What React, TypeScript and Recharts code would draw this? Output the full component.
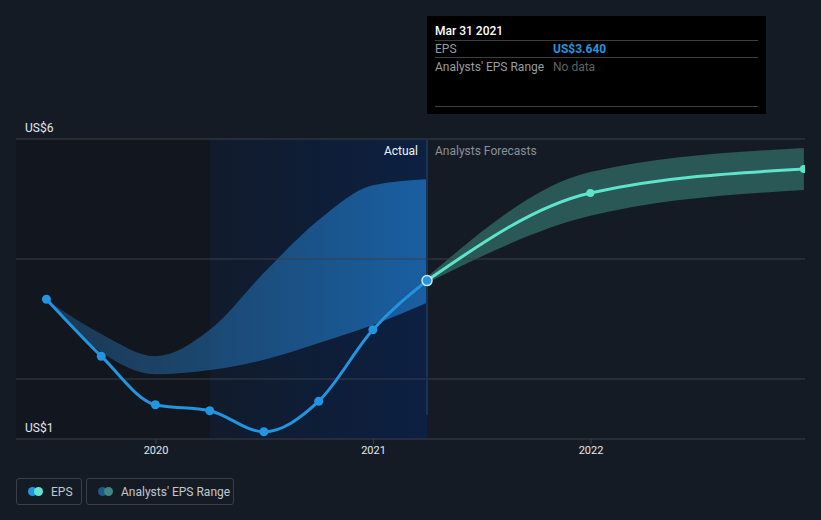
import React from 'react'
import { ComposedChart, Line, Area, XAxis, YAxis, ReferenceArea, ReferenceLine } from 'recharts'

// dates as decimal years
const dates = [2019.496, 2019.748, 2019.997, 2020.247, 2020.496, 2020.748, 2020.997, 2021.246, 2021.997, 2022.979]
const actualEps = [3.33, 2.38, 1.57, 1.47, 1.12, 1.63, 2.82, 3.64]
const forecastEps = [3.64, 5.1, 5.5]
const pastLow = [3.32, 2.45, 2.08, 2.15, 2.32, 2.6, 2.9, 3.27]
const pastHigh = [3.32, 2.75, 2.38, 2.82, 3.77, 4.65, 5.23, 5.33]
const forecastLow = [3.6, 4.72, 5.15]
const forecastHigh = [3.7, 5.45, 5.85]
const xTicks = [2020, 2021, 2022]

const FORECAST_START = 7
const LAST_ACTUAL = 2021.246
const REGION_START = 2020.247
const X_DOMAIN: [number, number] = [2019.356, 2022.984]

const table = dates.map((d, i) => {
  const f = i - FORECAST_START
  return {
    date: d,
    eps: i < actualEps.length ? actualEps[i] : null,
    forecast: f >= 0 ? forecastEps[f] : null,
    pastRange: i < pastLow.length ? [pastLow[i], pastHigh[i]] : null,
    forecastRange: f >= 0 ? [forecastLow[f], forecastHigh[f]] : null,
  }
})

const BG = '#151b25'
const GRID = '#3a3f49'
const FONT = 'Roboto, "Open Sans", sans-serif'

const yLabel = (text: string) => (props: any) => {
  const { viewBox } = props
  return (
    <text x={viewBox.x + 9} y={viewBox.y - 7} fill="#e6e8eb" fontSize={12} fontFamily={FONT}>
      {text}
    </text>
  )
}

const CursorLine = (props: any) => {
  const { x1, y1, y2 } = props
  return <line x1={x1} x2={x1} y1={y1 - 24} y2={y2} stroke="#1b3156" strokeWidth={2} />
}

function LegendItem({ colors, label, width }: { colors: string[]; label: string; width: number }) {
  return (
    <div
      style={{
        width,
        height: 27,
        boxSizing: 'border-box',
        border: '1px solid #3a3f4a',
        borderRadius: 3,
        display: 'flex',
        alignItems: 'center',
        paddingLeft: 11,
        marginRight: 4,
      }}
    >
      <span style={{ position: 'relative', width: 15, height: 9, marginRight: 8 }}>
        <span style={{ position: 'absolute', left: 0, top: 0, width: 9, height: 9, borderRadius: 5, background: colors[0] }} />
        <span style={{ position: 'absolute', left: 6, top: 0, width: 9, height: 9, borderRadius: 5, background: colors[1] }} />
      </span>
      <span style={{ color: '#c3c7ce', fontSize: 12 }}>{label}</span>
    </div>
  )
}

export default function App() {
  return (
    <div style={{ position: 'fixed', left: 0, top: 0, width: 821, height: 520, background: BG, fontFamily: FONT, overflow: 'hidden' }}>
      <ComposedChart width={821} height={520} data={table} margin={{ top: 139, right: 16, left: 16, bottom: 51 }}>
        <defs>
          <linearGradient id="regionFill" x1="0" y1="0" x2="1" y2="0">
            <stop offset="0%" stopColor="#111b2c" />
            <stop offset="100%" stopColor="#0c2042" />
          </linearGradient>
          <linearGradient id="pastBand" x1="0" y1="0" x2="1" y2="0">
            <stop offset="0%" stopColor="#22557f" stopOpacity={0.55} />
            <stop offset="100%" stopColor="#1b66ac" stopOpacity={0.9} />
          </linearGradient>
        </defs>
        <XAxis
          dataKey="date"
          type="number"
          domain={X_DOMAIN}
          ticks={xTicks}
          tickFormatter={(v: number) => String(v)}
          tick={{ fill: '#e6e8eb', fontSize: 11, fontFamily: FONT }}
          tickLine={{ stroke: GRID }}
          tickSize={5}
          axisLine={{ stroke: GRID }}
          height={30}
          allowDataOverflow
        />
        <YAxis hide domain={[1, 6]} type="number" allowDataOverflow />
        <ReferenceArea x1={X_DOMAIN[0]} x2={REGION_START} y1={1} y2={6} fill="#12161e" fillOpacity={1} stroke="none" />
        <ReferenceArea x1={REGION_START} x2={LAST_ACTUAL} y1={1} y2={6} fill="url(#regionFill)" fillOpacity={1} stroke="none" />
        <ReferenceLine y={2} stroke={GRID} />
        <ReferenceLine y={4} stroke={GRID} />
        <ReferenceLine y={6} stroke={GRID} label={yLabel('US$6')} />
        <ReferenceLine y={1} stroke="none" label={yLabel('US$1')} />
        <ReferenceLine x={LAST_ACTUAL} shape={CursorLine} />
        <Area
          dataKey="pastRange"
          type="monotoneX"
          stroke="none"
          fill="url(#pastBand)"
          fillOpacity={1}
          isAnimationActive={false}
          activeDot={false}
        />
        <Area
          dataKey="forecastRange"
          type="monotoneX"
          stroke="none"
          fill="#3a8a80"
          fillOpacity={0.55}
          isAnimationActive={false}
          activeDot={false}
        />
        <Line
          dataKey="forecast"
          type="monotoneX"
          stroke="#5fe3cb"
          strokeWidth={3}
          dot={{ r: 4, fill: '#5fe3cb', stroke: 'none' }}
          isAnimationActive={false}
          activeDot={false}
        />
        <Line
          dataKey="eps"
          type="monotoneX"
          stroke="#2394df"
          strokeWidth={3}
          dot={(p: any) =>
            p.index === FORECAST_START ? (
              <circle key={p.index} cx={p.cx} cy={p.cy} r={5} fill="#2394df" stroke="#cde4f7" strokeWidth={1.5} />
            ) : (
              <circle key={p.index} cx={p.cx} cy={p.cy} r={4.5} fill="#2394df" stroke="none" />
            )
          }
          isAnimationActive={false}
          activeDot={false}
        />
      </ComposedChart>

      <div style={{ position: 'absolute', left: 0, top: 144, width: 418, textAlign: 'right', color: '#f2f3f5', fontSize: 12 }}>Actual</div>
      <div style={{ position: 'absolute', left: 435, top: 144, color: '#8b9099', fontSize: 12 }}>Analysts Forecasts</div>

      <div style={{ position: 'absolute', left: 427, top: 16, width: 339, height: 98, background: '#000', boxSizing: 'border-box', padding: '0 8px' }}>
        <div style={{ color: '#fff', fontSize: 12, fontWeight: 500, height: 24, lineHeight: '30px', borderBottom: '1px solid #3d3d3d' }}>Mar 31 2021</div>
        <div style={{ display: 'flex', fontSize: 12, height: 16, lineHeight: '16px', borderBottom: '1px solid #3d3d3d' }}>
          <span style={{ color: '#9a9ca0', width: 118 }}>EPS</span>
          <span style={{ color: '#2394df', fontWeight: 700 }}>US$3.640</span>
        </div>
        <div style={{ display: 'flex', fontSize: 12, height: 48, lineHeight: '18px', borderBottom: '1px solid #3d3d3d' }}>
          <span style={{ color: '#9a9ca0', width: 118 }}>Analysts' EPS Range</span>
          <span style={{ color: '#5f6267' }}>No data</span>
        </div>
      </div>

      <div style={{ position: 'absolute', left: 16, top: 478, display: 'flex' }}>
        <LegendItem colors={['#2394df', '#5fe3cb']} label="EPS" width={66} />
        <LegendItem colors={['#1d5a8a', '#3f8580']} label="Analysts' EPS Range" width={148} />
      </div>
    </div>
  )
}
